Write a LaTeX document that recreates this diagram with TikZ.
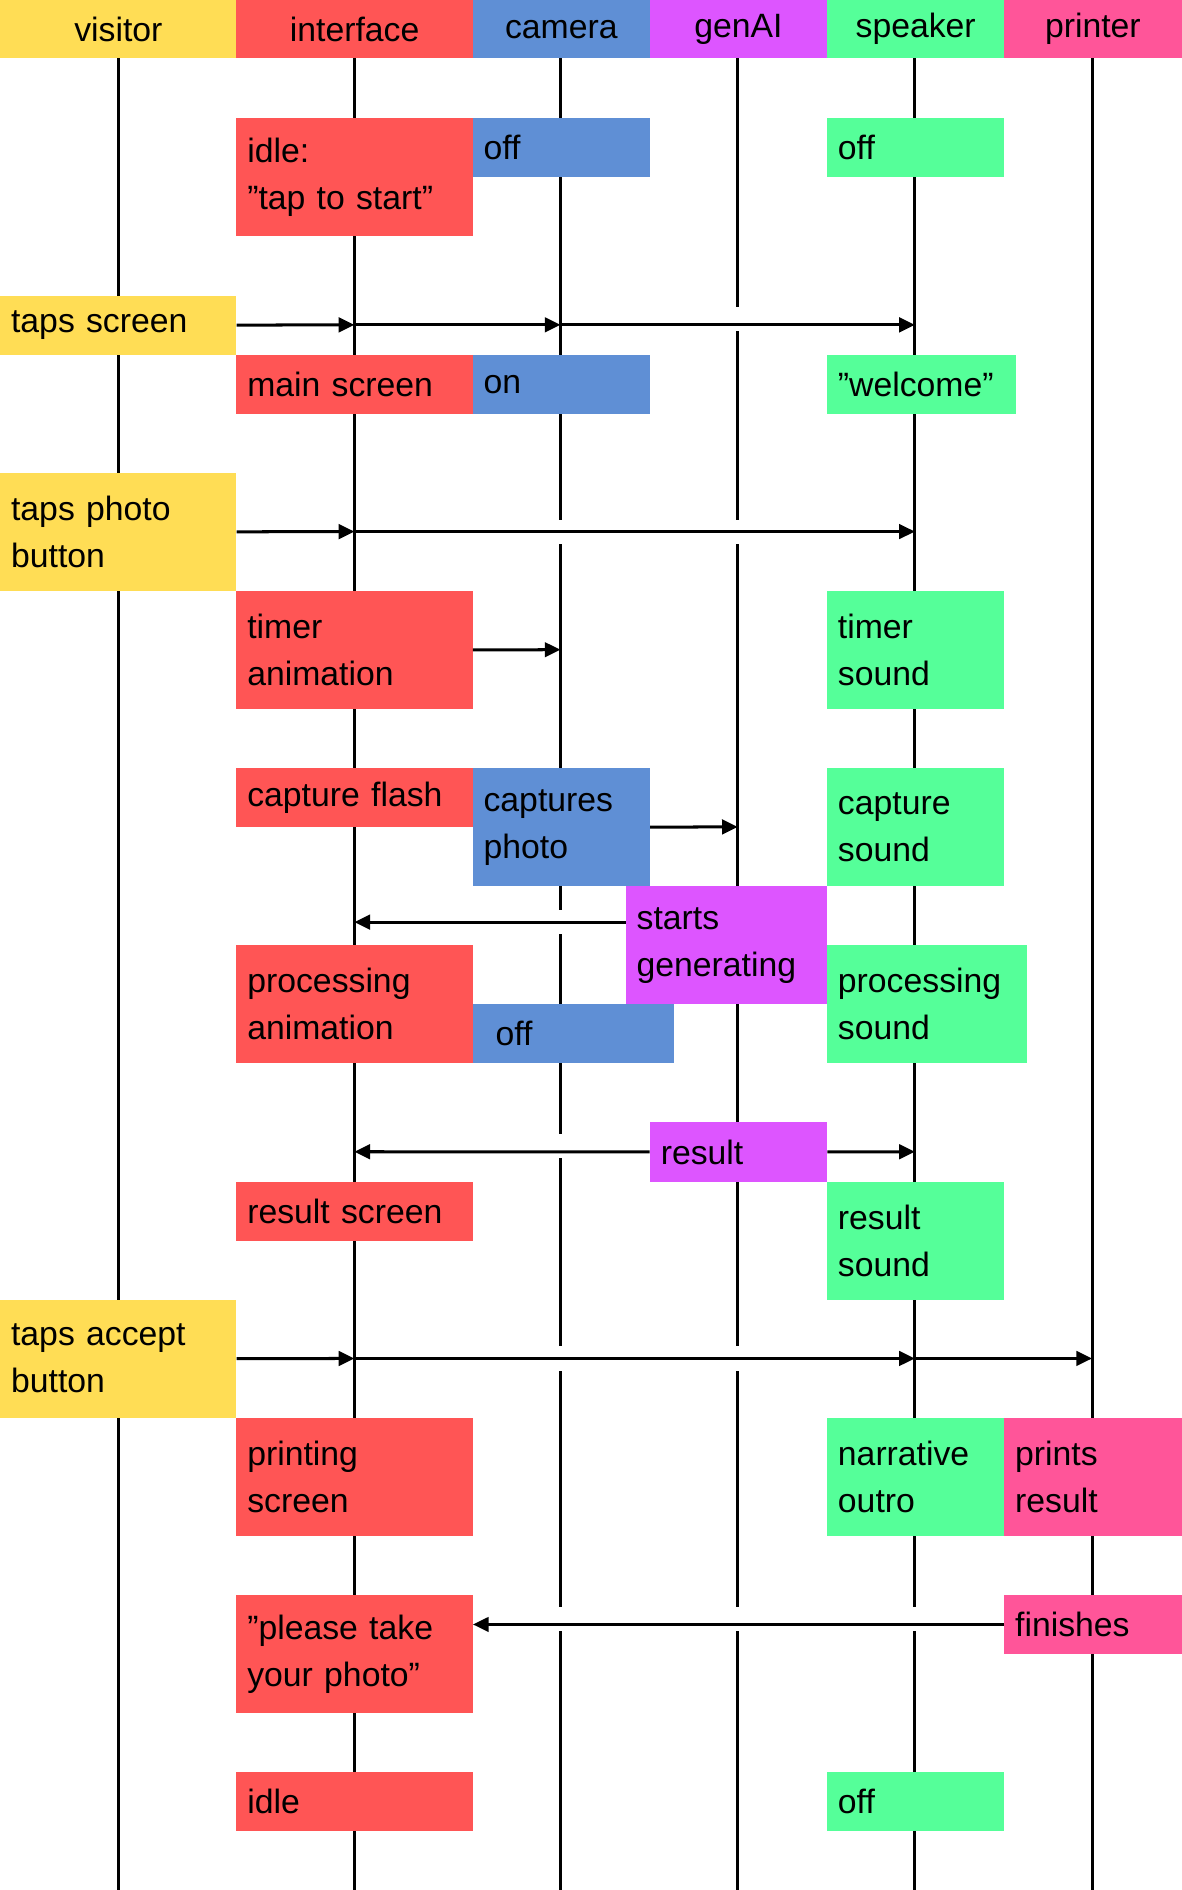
\documentclass[tikz,border=0pt]{standalone}
\usepackage{fontspec}
\setmainfont{Liberation Sans}
\usetikzlibrary{arrows.meta}
\definecolor{cy}{HTML}{FFDD55}
\definecolor{cr}{HTML}{FF5555}
\definecolor{cb}{HTML}{5F8FD5}
\definecolor{cp}{HTML}{DD55FF}
\definecolor{cg}{HTML}{55FF99}
\definecolor{ck}{HTML}{FF5599}
\tikzset{
 bx/.style={draw=none,anchor=north west,inner xsep=9pt,inner ysep=0pt,align=left,font=\fontsize{28}{39}\selectfont},
 hd/.style={draw=none,anchor=north west,inner sep=0pt,align=center,font=\fontsize{28}{39}\selectfont},
 life/.style={line width=2.5pt},
 msg/.style={line width=2.5pt,-{Triangle[length=13pt,width=12pt]}},
 gap/.style={fill=white,draw=none}
}
\newcommand\mybox[7]{\node[bx,fill=#6,minimum width=#4pt,minimum height=#5pt,text width={#4pt-18pt}] (#1) at (#2,#3) {#7};}
\newcommand\myhead[5]{\node[hd,fill=#4,minimum width=#3pt,minimum height=48pt,text width=#3pt] (#1) at (#2,0) {#5};}
\begin{document}
\begin{tikzpicture}[x=1pt,y=-1pt]
\useasboundingbox (0,0) rectangle (980,1568);
% lifelines
\foreach \n/\x in {v/98,i/294,c/465,g/612,s/759,p/906}{
  \coordinate (\n0) at (\x,40);
  \coordinate (\n1) at (\x,1568);
  \draw[life] (\n0) -- (\n1);
}
% gaps
\foreach \x/\y in {612/265,465/441,612/441,465/765,465/951,465/1127,612/1127,465/1343,612/1343,759/1343}{
  \fill[gap] (\x-4,\y-10) rectangle (\x+4,\y+10);
}
% headers
\myhead{hv}{0}{196}{cy}{visitor}
\myhead{hi}{196}{196}{cr}{interface}
\myhead{hc}{392}{147}{cb}{camera}
\myhead{hg}{539}{147}{cp}{genAI}
\myhead{hs}{686}{147}{cg}{speaker}
\myhead{hp}{833}{147}{ck}{printer}
% boxes
\mybox{b1}{196}{98}{196}{98}{cr}{idle:\\"tap to start"}
\mybox{b2}{392}{98}{147}{49}{cb}{off}
\mybox{b3}{686}{98}{147}{49}{cg}{off}
\mybox{b4}{0}{245}{196}{49}{cy}{taps screen}
\mybox{b5}{196}{294}{196}{49}{cr}{main screen}
\mybox{b6}{392}{294}{147}{49}{cb}{on}
\mybox{b7}{686}{294}{157}{49}{cg}{"welcome"}
\mybox{b8}{0}{392}{196}{98}{cy}{taps photo\\button}
\mybox{b9}{196}{490}{196}{98}{cr}{timer\\animation}
\mybox{b10}{686}{490}{147}{98}{cg}{timer\\sound}
\mybox{b11}{196}{637}{196}{49}{cr}{capture flash}
\mybox{b12}{392}{637}{147}{98}{cb}{captures\\photo}
\mybox{b13}{686}{637}{147}{98}{cg}{capture\\sound}
\mybox{b14}{519}{735}{167}{98}{cp}{starts\\generating}
\mybox{b15}{196}{784}{196}{98}{cr}{processing\\animation}
\node[bx,fill=cb,minimum width=147pt,minimum height=49pt,text width=129pt,inner xsep=19pt] (b16) at (392,833) {off};
\mybox{b17}{686}{784}{166}{98}{cg}{processing\\sound}
\mybox{b18}{539}{931}{147}{49}{cp}{result}
\mybox{b19}{196}{980}{196}{49}{cr}{result screen}
\mybox{b20}{686}{980}{147}{98}{cg}{result\\sound}
\mybox{b21}{0}{1078}{196}{98}{cy}{taps accept\\button}
\mybox{b22}{196}{1176}{196}{98}{cr}{printing\\screen}
\mybox{b23}{686}{1176}{147}{98}{cg}{narrative\\outro}
\mybox{b24}{833}{1176}{147}{98}{ck}{prints\\result}
\mybox{b25}{196}{1323}{196}{98}{cr}{"please take\\your photo"}
\mybox{b26}{833}{1323}{147}{49}{ck}{finishes}
\mybox{b27}{196}{1470}{196}{49}{cr}{idle}
\mybox{b28}{686}{1470}{147}{49}{cg}{off}
% messages
\draw[msg] (b4.east) -- (294,269.5) coordinate (a1);
\draw[msg] (a1) -- (465,269.5) coordinate (a2);
\draw[msg] (a2) -- (759,269.5);
\draw[msg] (b8.east) -- (294,441) coordinate (a3);
\draw[msg] (a3) -- (759,441);
\draw[msg] (b9.east) -- (465,539);
\draw[msg] (b12.east) -- (612,686);
\draw[msg] (b14.west |- 0,765) coordinate (a4) -- (294,765);
\draw[msg] (b18.west) -- (294,955.5);
\draw[msg] (b18.east) -- (759,955.5);
\draw[msg] (b21.east) -- (294,1127) coordinate (a5);
\draw[msg] (a5) -- (759,1127) coordinate (a6);
\draw[msg] (a6) -- (906,1127);
\draw[msg] (b26.west) -- (b25.east |- b26.west);
\end{tikzpicture}
\end{document}
